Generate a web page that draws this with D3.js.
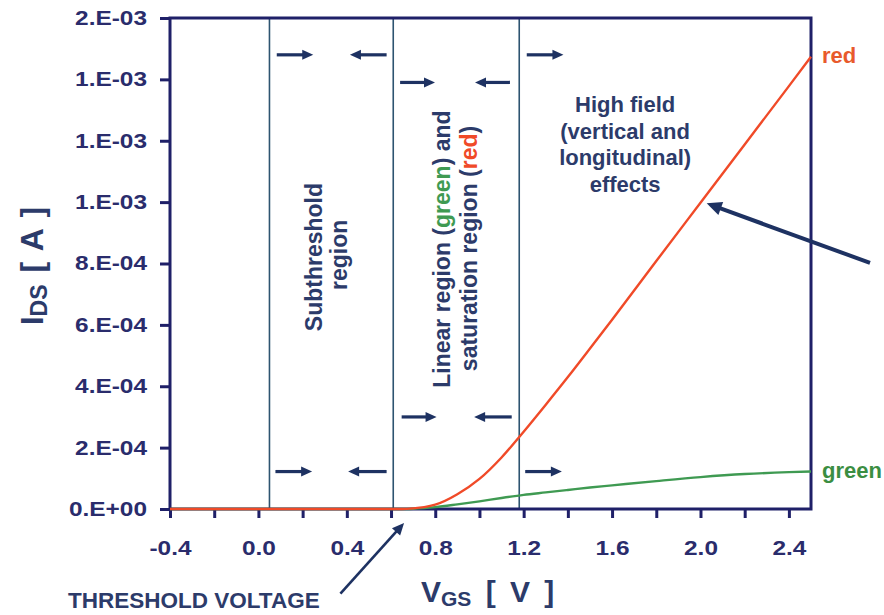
<!DOCTYPE html>
<html><head><meta charset="utf-8">
<script src="https://cdn.jsdelivr.net/npm/d3@7"></script>
<style>
body{margin:0;background:#fff;}
svg{display:block;font-family:"Liberation Sans",Arial,Helvetica,sans-serif;font-weight:bold;}
</style>
</head><body>
<svg id="chart" width="884" height="615"></svg>
<script>
// ---- data ----
const vgs      = [-0.4, 0.0, 0.4, 0.6, 0.65, 0.7, 0.75, 0.8, 0.9, 1.0, 1.1, 1.2, 1.3, 1.4, 1.5, 1.6, 1.8, 2.0, 2.2, 2.4, 2.5];
const idsRed   = [0, 0, 0, 0, 0, 0.000002, 0.000006, 0.000014, 0.000048, 0.000098, 0.000168, 0.000252, 0.00034, 0.00043, 0.000523, 0.000617, 0.000808, 0.000998, 0.001188, 0.001378, 0.001474];
const idsGreen = [0, 0, 0, 0, 0, 0.000001, 0.000003, 0.000006, 0.000015, 0.000025, 0.000036, 0.000046, 0.000054, 0.000062, 0.00007, 0.000077, 0.000091, 0.000104, 0.000114, 0.00012, 0.000122];
const seriesNames = ["red", "green"];

const xTickValues = [-0.4,-0.2,0.0,0.2,0.4,0.6,0.8,1.0,1.2,1.4,1.6,1.8,2.0,2.2,2.4];
const xTickLabels = ["-0.4","","0.0","","0.4","","0.8","","1.2","","1.6","","2.0","","2.4"];
const yTickValues = [0,0.0002,0.0004,0.0006,0.0008,0.001,0.0012,0.0014,0.0016];
const yTickLabels = ["0.E+00","2.E-04","4.E-04","6.E-04","8.E-04","1.E-03","1.E-03","1.E-03","2.E-03"];

// region boundaries (V)
const regionBounds = [0.05, 0.61, 1.18];
// region arrows: [from V, to V (head), level A]
const regionArrows = [
  [0.083, 0.248, 0.00148], [0.580, 0.414, 0.00148], [1.214, 1.380, 0.00148],
  [0.641, 0.799, 0.00139], [1.138, 0.980, 0.00139],
  [0.648, 0.806, 0.00030], [1.146, 0.976, 0.00030],
  [0.077, 0.243, 0.000122], [0.580, 0.406, 0.000122], [1.207, 1.373, 0.000122]
];
const highFieldLines = ["High field", "(vertical and", "longitudinal)", "effects"];

// ---- layout ----
const svg = d3.select("#chart");
const L = 170, T = 18, R = 811, B = 509;
const x = d3.scaleLinear().domain([-0.4, 2.5]).range([L, R]);
const y = d3.scaleLinear().domain([0, 0.0016]).range([B, T]);

const navy = "#1f2068", textNavy = "#2c3b6a", arrowNavy = "#1e3262", regionCol = "#2d5470";
const redCol = "#f04a28", greenCol = "#3f9a52";

// region lines
svg.append("g").selectAll("line").data(regionBounds).join("line")
  .attr("x1", d => x(d)).attr("x2", d => x(d)).attr("y1", T).attr("y2", B)
  .attr("stroke", regionCol).attr("stroke-width", 1.6);

// arrow helper
function arrow(g, x0, y0, x1, y1, w, hl, hw, col) {
  const dx = x1 - x0, dy = y1 - y0, len = Math.hypot(dx, dy);
  const ux = dx / len, uy = dy / len, px = -uy, py = ux;
  const bx = x1 - ux * hl, by = y1 - uy * hl;
  g.append("line").attr("x1", x0).attr("y1", y0).attr("x2", bx + ux).attr("y2", by + uy)
    .attr("stroke", col).attr("stroke-width", w);
  g.append("path").attr("d", `M${x1},${y1}L${bx + px * hw},${by + py * hw}L${bx - px * hw},${by - py * hw}Z`)
    .attr("fill", col);
}
const ag = svg.append("g");
regionArrows.forEach(a => arrow(ag, x(a[0]), y(a[2]), x(a[1]), y(a[2]), 3.2, 11, 5, arrowNavy));

// rotated region texts
function rotText(vx, ia, size) {
  return svg.append("text")
    .attr("transform", `translate(${x(vx)},${y(ia)}) rotate(-90)`)
    .attr("text-anchor", "middle").attr("font-size", size).attr("fill", textNavy);
}
rotText(0.288, 0.000821, 23).text("Subthreshold");
rotText(0.400, 0.000828, 23).text("region");
const l1 = rotText(0.867, 0.000847, 23);
l1.append("tspan").text("Linear region (");
l1.append("tspan").attr("fill", greenCol).text("green");
l1.append("tspan").text(") and");
const l2 = rotText(0.989, 0.000849, 23);
l2.append("tspan").text("saturation region (");
l2.append("tspan").attr("fill", redCol).text("red");
l2.append("tspan").text(")");

// High field text
svg.append("g").selectAll("text").data(highFieldLines).join("text")
  .attr("x", x(1.659)).attr("y", (d, i) => 112 + i * 26.6)
  .attr("text-anchor", "middle").attr("font-size", 22).attr("fill", textNavy)
  .text(d => d);

// axes
const yAxis = svg.append("g").attr("transform", `translate(${L},0)`)
  .call(d3.axisLeft(y).tickValues(yTickValues).tickFormat((d, i) => yTickLabels[i]).tickSize(10).tickPadding(13));
const xAxis = svg.append("g").attr("transform", `translate(0,${B})`)
  .call(d3.axisBottom(x).tickValues(xTickValues).tickFormat((d, i) => xTickLabels[i]).tickSize(9).tickPadding(23));
[yAxis, xAxis].forEach(a => {
  a.select(".domain").remove();
  a.selectAll(".tick line").attr("stroke", navy).attr("stroke-width", 3);
  a.selectAll(".tick text").attr("fill", "#2a2c6c").attr("font-size", 20)
    .attr("font-family", "'Liberation Sans',Arial,sans-serif").attr("font-weight", "bold");
});
svg.selectAll(".tick text").each(function () {
  const len = this.getComputedTextLength();
  if (len > 0) d3.select(this).attr("textLength", len * 1.22).attr("lengthAdjust", "spacingAndGlyphs");
});

// frame
svg.append("rect").attr("x", L).attr("y", T).attr("width", R - L).attr("height", B - T)
  .attr("fill", "none").attr("stroke", navy).attr("stroke-width", 3);

// curves (green first so red lies on top along the baseline)
const line = d3.line().x(d => x(d[0])).y(d => y(d[1])).curve(d3.curveMonotoneX);
const series = [idsRed, idsGreen];
const colors = [redCol, greenCol];
const labelCols = ["#e85a2c", "#3b8e42"];
[1, 0].forEach(k => {
  const s = series[k];
  svg.append("path").datum(vgs.map((v, i) => [v, s[i]]))
    .attr("d", line).attr("fill", "none").attr("stroke", colors[k]).attr("stroke-width", 2.4);
  svg.append("text").attr("x", x(2.5) + 11).attr("y", y(s[s.length - 1])).attr("dy", "0.3em")
    .attr("font-size", 22).attr("fill", labelCols[k]).text(seriesNames[k]);
});

// big arrow to red curve (high field)
arrow(svg.append("g"), x(2.767), y(0.000802), x(2.028), y(0.000996), 4, 15, 7, arrowNavy);
// threshold arrow
arrow(svg.append("g"), x(0.371), y(-0.000276), x(0.659), y(-0.0000456), 2.6, 12, 5.5, arrowNavy);

// axis titles
const yt = svg.append("text").attr("transform", `translate(43,266) rotate(-90)`)
  .attr("text-anchor", "middle").attr("fill", textNavy).attr("font-size", 32).attr("word-spacing", 3);
yt.append("tspan").text("I");
yt.append("tspan").attr("font-size", 23).attr("dy", 4).text("DS");
yt.append("tspan").attr("dy", -4).text(" [ A ]");

const xt = svg.append("text").attr("x", 421).attr("y", 602)
  .attr("fill", textNavy).attr("font-size", 30).attr("word-spacing", 6);
xt.append("tspan").text("V");
xt.append("tspan").attr("font-size", 21).attr("dy", 3.5).text("GS");
xt.append("tspan").attr("dy", -3.5).text(" [ V ]");

svg.append("text").attr("x", 68).attr("y", 608).attr("font-size", 22.5).attr("fill", textNavy)
  .text("THRESHOLD VOLTAGE");
</script>
</body></html>
